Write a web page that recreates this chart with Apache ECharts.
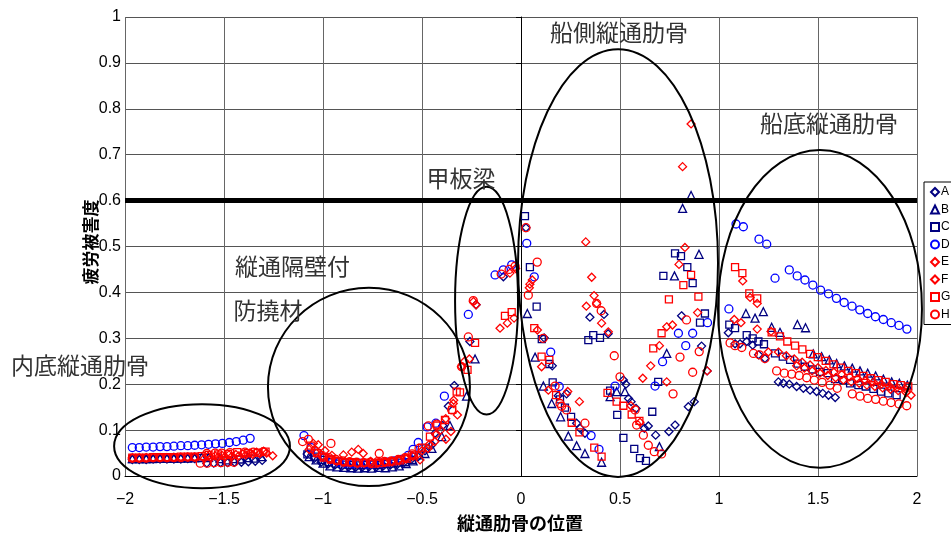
<!DOCTYPE html>
<html>
<head>
<meta charset="utf-8">
<script src="https://cdn.jsdelivr.net/npm/echarts@6/dist/echarts.min.js"></script>
<style>
  html, body { margin: 0; padding: 0; background: #fff; }
  #chart { width: 951px; height: 535px; }
</style>
</head>
<body>
<div id="chart"></div>
<script>
// ---- data (x: 縦通肋骨の位置, y: 疲労被害度) ----
const seriesNames = ['A', 'B', 'C', 'D', 'E', 'F', 'G', 'H'];

const dataA = [
  [-1.963,0.036],[-1.928,0.036],[-1.893,0.036],[-1.858,0.037],[-1.823,0.037],[-1.788,0.037],[-1.753,0.037],[-1.718,0.037],[-1.683,0.038],[-1.648,0.038],
  [-1.587,0.028],[-1.552,0.028],[-1.517,0.029],[-1.482,0.029],[-1.447,0.030],[-1.412,0.030],[-1.377,0.031],[-1.342,0.032],[-1.307,0.034],
  [-1.08,0.048],[-1.045,0.038],[-1.01,0.03],[-0.975,0.026],[-0.94,0.024],[-0.905,0.021],[-0.87,0.02],[-0.835,0.019],[-0.8,0.02],[-0.765,0.021],[-0.73,0.02],
  [-0.695,0.022],[-0.66,0.024],[-0.625,0.025],[-0.59,0.03],[-0.555,0.036],[-0.52,0.042],[-0.485,0.055],[-0.45,0.068],[-0.434,0.093],[-0.395,0.11],
  [-0.367,0.152],[-0.337,0.197],[-0.258,0.293],[-0.227,0.373],[-0.089,0.434],
  [0.025,0.541],[0.117,0.301],[0.158,0.24],[0.188,0.175],[0.23,0.179],[0.281,0.115],[0.298,0.104],[0.323,0.093],[0.348,0.346],[0.419,0.352],[0.44,0.31],
  [0.517,0.209],[0.53,0.2],[0.543,0.169],[0.556,0.162],[0.581,0.147],[0.623,0.104],[0.643,0.109],[0.68,0.089],[0.747,0.097],[0.778,0.111],[0.811,0.349],
  [0.845,0.151],[0.875,0.162],[0.912,0.283],[0.94,0.229],
  [1.047,0.312],[1.081,0.288],[1.106,0.288],[1.14,0.293],[1.17,0.285],[1.2,0.264],[1.232,0.256],[1.3,0.205],[1.325,0.202],[1.355,0.2],[1.392,0.195],
  [1.426,0.191],[1.46,0.187],[1.493,0.184],[1.524,0.18],[1.553,0.176],[1.587,0.171]
];
const dataB = [
  [-1.963,0.038],[-1.928,0.038],[-1.893,0.038],[-1.858,0.039],[-1.823,0.039],[-1.788,0.039],[-1.753,0.039],[-1.718,0.04],[-1.683,0.04],[-1.648,0.04],
  [-1.613,0.041],[-1.578,0.041],[-1.52,0.038],[-1.45,0.038],[-1.38,0.04],[-1.31,0.042],
  [-1.07,0.042],[-1.035,0.035],[-1.0,0.028],[-0.965,0.022],[-0.93,0.02],[-0.895,0.019],[-0.86,0.018],[-0.825,0.017],[-0.79,0.018],[-0.755,0.017],
  [-0.72,0.019],[-0.685,0.018],[-0.65,0.02],[-0.615,0.022],[-0.58,0.027],[-0.545,0.033],[-0.485,0.049],[-0.45,0.06],[-0.40,0.086],[-0.359,0.11],
  [-0.275,0.174],[-0.232,0.255],
  [0.032,0.354],[0.071,0.259],[0.113,0.196],[0.155,0.158],[0.2,0.129],[0.239,0.087],[0.281,0.066],[0.323,0.049],[0.407,0.03],[0.45,0.173],
  [0.483,0.184],[0.525,0.184],[0.699,0.064],[0.736,0.267],[0.775,0.436],[0.816,0.583],[0.859,0.611],[0.899,0.483],
  [1.136,0.354],[1.182,0.344],[1.224,0.358],[1.266,0.324],[1.308,0.313],[1.396,0.33],[1.437,0.323],[1.476,0.266],[1.518,0.26],[1.557,0.253],
  [1.594,0.245],[1.633,0.24],[1.673,0.235],[1.712,0.229],[1.751,0.224],[1.791,0.218],[1.83,0.211],[1.872,0.205],[1.911,0.202],[1.951,0.198]
];
const dataC = [
  [-1.963,0.037],[-1.928,0.037],[-1.893,0.037],[-1.858,0.037],[-1.823,0.038],[-1.788,0.038],[-1.753,0.038],[-1.718,0.038],[-1.683,0.038],[-1.648,0.039],
  [-1.613,0.039],[-1.578,0.039],[-1.49,0.034],[-1.42,0.036],[-1.35,0.038],
  [-1.079,0.047],[-1.04,0.042],[-1.005,0.035],[-0.97,0.03],[-0.935,0.027],[-0.9,0.025],[-0.865,0.024],[-0.83,0.023],[-0.795,0.024],[-0.76,0.025],
  [-0.725,0.024],[-0.69,0.026],[-0.655,0.027],[-0.62,0.029],[-0.585,0.03],[-0.55,0.035],[-0.515,0.045],[-0.48,0.06],
  [0.02,0.566],[0.045,0.455],[0.079,0.369],[0.105,0.298],[0.143,0.244],[0.16,0.204],[0.197,0.167],[0.222,0.149],[0.253,0.129],[0.34,0.296],
  [0.365,0.307],[0.399,0.301],[0.45,0.186],[0.486,0.133],[0.517,0.083],[0.572,0.059],[0.601,0.039],[0.631,0.033],[0.663,0.14],[0.693,0.205],
  [0.719,0.436],[0.778,0.485],[0.808,0.479],[0.84,0.455],[0.867,0.42],[0.904,0.334],[0.929,0.354],
  [1.052,0.33],[1.081,0.322],[1.14,0.307],[1.17,0.3],[1.199,0.293],[1.227,0.287],[1.283,0.267],[1.322,0.26],[1.359,0.253],[1.397,0.245],
  [1.434,0.238],[1.473,0.232],[1.51,0.227],[1.549,0.224],[1.586,0.211],[1.628,0.209],[1.662,0.202],[1.704,0.198],[1.741,0.195],[1.78,0.19],
  [1.818,0.184],[1.855,0.18],[1.897,0.176]
];
const dataD = [
  [-1.963,0.062],[-1.928,0.062],[-1.893,0.063],[-1.858,0.063],[-1.823,0.064],[-1.788,0.064],[-1.753,0.065],[-1.718,0.066],[-1.683,0.066],
  [-1.648,0.067],[-1.613,0.068],[-1.578,0.069],[-1.543,0.07],[-1.508,0.071],[-1.473,0.073],[-1.438,0.075],[-1.403,0.078],[-1.368,0.082],
  [-1.096,0.088],[-1.06,0.062],[-1.025,0.05],[-0.99,0.04],[-0.955,0.035],[-0.92,0.03],[-0.885,0.028],[-0.85,0.027],[-0.815,0.028],[-0.78,0.026],
  [-0.745,0.027],[-0.71,0.028],[-0.675,0.03],[-0.64,0.033],[-0.605,0.036],[-0.57,0.045],[-0.545,0.058],[-0.519,0.073],[-0.474,0.107],[-0.43,0.115],
  [-0.387,0.174],[-0.266,0.352],[-0.131,0.438],[-0.089,0.449],[-0.047,0.46],
  [0.029,0.507],[0.067,0.434],[0.15,0.27],[0.193,0.195],[0.354,0.088],[0.394,0.058],[0.475,0.196],[0.677,0.196],[0.715,0.249],[0.795,0.311],
  [0.832,0.284],[0.867,0.311],[0.942,0.334],
  [1.05,0.364],[1.086,0.549],[1.123,0.543],[1.202,0.516],[1.241,0.505],[1.283,0.431],[1.355,0.449],[1.395,0.436],[1.434,0.427],[1.474,0.416],
  [1.513,0.405],[1.553,0.397],[1.593,0.387],[1.632,0.378],[1.672,0.37],[1.711,0.362],[1.751,0.354],[1.79,0.347],[1.83,0.341],[1.87,0.334],
  [1.909,0.328],[1.949,0.32]
];
const dataE = [
  [-1.963,0.039],[-1.928,0.039],[-1.893,0.04],[-1.858,0.04],[-1.823,0.04],[-1.788,0.04],[-1.753,0.041],[-1.718,0.041],[-1.683,0.041],[-1.648,0.041],
  [-1.58,0.043],[-1.545,0.044],[-1.51,0.045],[-1.475,0.046],[-1.44,0.047],[-1.405,0.048],[-1.37,0.05],[-1.335,0.052],[-1.30,0.054],[-1.254,0.044],
  [-1.049,0.071],[-1.024,0.068],[-0.99,0.055],[-0.955,0.045],[-0.897,0.046],[-0.855,0.052],[-0.822,0.058],[-0.797,0.049],[-0.76,0.032],[-0.725,0.028],
  [-0.69,0.03],[-0.655,0.032],[-0.62,0.035],[-0.585,0.04],[-0.55,0.045],[-0.51,0.035],[-0.47,0.06],[-0.435,0.075],[-0.379,0.08],[-0.354,0.097],
  [-0.321,0.133],[-0.342,0.158],[-0.301,0.238],[-0.261,0.255],[-0.227,0.373],[-0.106,0.322],[-0.069,0.333],[-0.035,0.344],
  [0.057,0.427],[0.083,0.318],[0.138,0.187],[0.236,0.184],[0.327,0.51],[0.369,0.393],[0.407,0.333],[0.555,0.153],[0.615,0.213],[0.699,0.284],
  [0.765,0.329],[0.816,0.674],[0.859,0.767],[0.892,0.356],
  [1.077,0.341],[1.111,0.334],[1.193,0.32],[1.263,0.315],[1.249,0.27],[1.392,0.24],[1.431,0.235],[1.47,0.229],[1.51,0.224],[1.549,0.219],
  [1.589,0.214],[1.628,0.209],[1.668,0.205],[1.708,0.202],[1.747,0.198],[1.787,0.195],[1.826,0.192],[1.866,0.189],[1.905,0.186],[1.945,0.182],[1.97,0.176]
];
const dataF = [
  [-1.6,0.038],[-1.565,0.04],[-1.53,0.041],[-1.495,0.042],[-1.46,0.043],[-1.425,0.044],[-1.39,0.046],[-1.355,0.047],[-1.32,0.049],[-1.285,0.05],
  [-1.07,0.058],[-1.035,0.05],[-1.0,0.042],[-0.965,0.036],[-0.93,0.032],[-0.895,0.03],[-0.86,0.029],[-0.825,0.027],[-0.79,0.028],[-0.755,0.027],
  [-0.72,0.029],[-0.685,0.03],[-0.65,0.031],[-0.615,0.033],[-0.58,0.037],[-0.545,0.043],[-0.5,0.055],[-0.465,0.068],[-0.43,0.09],[-0.405,0.1],
  [-0.38,0.125],[-0.34,0.165],[-0.285,0.25],[-0.24,0.38],[-0.056,0.442],[-0.027,0.452],
  [0.042,0.41],[0.045,0.418],[0.104,0.238],[0.295,0.162],[0.357,0.433],[0.382,0.376],[0.33,0.37],[0.441,0.314],[0.601,0.117],[0.655,0.24],
  [0.736,0.325],[0.736,0.205],[0.798,0.461],[0.828,0.498],[0.94,0.229],
  [1.12,0.425],[1.157,0.389],[1.193,0.376],[1.30,0.27],[1.34,0.262],[1.38,0.255],[1.42,0.248],[1.46,0.242],[1.5,0.236],[1.54,0.23],[1.58,0.226],
  [1.62,0.221],[1.66,0.216],[1.7,0.212],[1.74,0.208],[1.78,0.204],[1.82,0.2],[1.86,0.196],[1.9,0.193],[1.94,0.19]
];
const dataG = [
  [-1.963,0.04],[-1.928,0.04],[-1.893,0.04],[-1.858,0.041],[-1.823,0.041],[-1.788,0.041],[-1.753,0.041],[-1.718,0.042],[-1.683,0.042],[-1.648,0.042],
  [-1.613,0.043],[-1.578,0.046],[-1.53,0.047],[-1.48,0.048],[-1.433,0.052],[-1.38,0.05],[-1.33,0.051],[-1.29,0.053],
  [-1.062,0.066],[-1.03,0.05],[-0.995,0.04],[-0.96,0.036],[-0.925,0.033],[-0.89,0.03],[-0.855,0.03],[-0.82,0.028],[-0.785,0.029],[-0.75,0.027],
  [-0.715,0.028],[-0.68,0.03],[-0.645,0.032],[-0.61,0.034],[-0.575,0.038],[-0.54,0.045],[-0.5,0.062],[-0.46,0.086],[-0.423,0.11],[-0.384,0.122],
  [-0.347,0.144],[-0.325,0.184],[-0.308,0.182],[-0.27,0.231],[-0.232,0.29],[-0.081,0.349],[-0.047,0.357],
  [0.067,0.322],[0.104,0.26],[0.143,0.253],[0.177,0.176],[0.256,0.116],[0.295,0.095],[0.37,0.062],[0.407,0.042],[0.437,0.181],[0.483,0.162],
  [0.517,0.153],[0.559,0.134],[0.598,0.12],[0.668,0.278],[0.71,0.311],[0.747,0.385],[0.82,0.416],[0.859,0.438],[0.896,0.391],
  [1.081,0.455],[1.118,0.442],[1.153,0.398],[1.193,0.387],[1.266,0.313],[1.308,0.304],[1.345,0.293],[1.384,0.284],[1.421,0.276],[1.46,0.266],
  [1.499,0.259],[1.539,0.251],[1.578,0.243],[1.616,0.236],[1.653,0.229],[1.692,0.224],[1.729,0.218],[1.768,0.213],[1.805,0.209],[1.842,0.205],
  [1.881,0.2],[1.918,0.198],[1.956,0.195]
];
const dataH = [
  [-1.963,0.039],[-1.928,0.039],[-1.893,0.039],[-1.858,0.04],[-1.823,0.04],[-1.788,0.04],[-1.753,0.04],[-1.718,0.04],[-1.683,0.041],[-1.648,0.041],
  [-1.62,0.028],[-1.585,0.028],[-1.55,0.029],[-1.515,0.029],[-1.48,0.03],[-1.45,0.03],
  [-1.587,0.049],[-1.545,0.05],[-1.512,0.05],[-1.47,0.051],[-1.394,0.052],[-1.352,0.052],[-1.302,0.053],
  [-1.103,0.075],[-1.074,0.08],[-0.96,0.071],[-0.716,0.049],[-1.04,0.055],[-1.005,0.045],[-0.97,0.04],[-0.935,0.036],[-0.9,0.033],[-0.865,0.031],
  [-0.83,0.03],[-0.795,0.029],[-0.76,0.03],[-0.725,0.031],[-0.69,0.032],[-0.655,0.033],[-0.62,0.036],[-0.585,0.04],[-0.55,0.048],[-0.515,0.06],
  [-0.468,0.109],[-0.426,0.113],[-0.35,0.144],[-0.3,0.238],[-0.266,0.303],[-0.241,0.382],[-0.1,0.44],[-0.06,0.45],[-0.03,0.457],
  [0.025,0.541],[0.037,0.394],[0.082,0.466],[0.112,0.3],[0.172,0.196],[0.197,0.158],[0.205,0.152],[0.23,0.144],[0.323,0.115],[0.382,0.376],
  [0.405,0.36],[0.471,0.262],[0.5,0.216],[0.576,0.144],[0.584,0.111],[0.618,0.089],[0.643,0.067],[0.673,0.053],[0.71,0.048],[0.768,0.179],
  [0.803,0.259],[0.836,0.34],[0.867,0.226],[0.9,0.271],
  [1.056,0.29],[1.081,0.284],[1.115,0.28],[1.174,0.267],[1.204,0.264],[1.232,0.256],[1.291,0.229],[1.33,0.224],[1.367,0.222],[1.405,0.219],
  [1.443,0.214],[1.481,0.209],[1.521,0.204],[1.561,0.198],[1.597,0.191],[1.673,0.179],[1.712,0.174],[1.751,0.169],[1.791,0.167],[1.83,0.163],
  [1.869,0.16],[1.909,0.157],[1.948,0.153]
];

const allData = [dataA, dataB, dataC, dataD, dataE, dataF, dataG, dataH];
const symbols = ['diamond', 'triangle', 'rect', 'circle', 'diamond', 'diamond', 'rect', 'circle'];
const colors = ['#000080', '#000080', '#000080', '#0000ff', '#ff0000', '#ff0000', '#ff0000', '#ff0000'];
const sizes = [8, 8, 7, 8, 8, 8, 7, 8];

const limitLine = 0.6;

// 領域の楕円 (data units: centre x, centre y, radius x, radius y)
const regionEllipses = [
  [-1.611, 0.065, 0.444, 0.0915],
  [-0.768, 0.194, 0.51, 0.216],
  [-0.174, 0.382, 0.159, 0.248],
  [0.49, 0.464, 0.505, 0.466],
  [1.51, 0.364, 0.515, 0.346]
];
const regionLabels = ['内底縦通肋骨', '縦通隔壁付', '防撓材', '甲板梁', '船側縦通肋骨', '船底縦通肋骨'];
const regionLabelPos = [[-2.227, 0.242], [-1.154, 0.457], [-1.278, 0.362], [-0.303, 0.649], [0.495, 0.967], [1.556, 0.769]];

const chart = echarts.init(document.getElementById('chart'));

const option = {
  animation: false,
  textStyle: { fontFamily: '"Liberation Sans", "Noto Sans CJK JP", sans-serif' },
  grid: { left: 125, right: 34, top: 17, bottom: 59 },
  legend: {
    data: seriesNames,
    orient: 'vertical',
    left: 924,
    top: 182,
    padding: [4, 8, 4, 6],
    itemGap: 5.5,
    itemWidth: 8,
    itemHeight: 8,
    borderColor: '#000',
    borderWidth: 1,
    borderRadius: 0,
    backgroundColor: '#fff',
    textStyle: { fontSize: 12, color: '#000', padding: [0, 0, 0, -3] }
  },
  xAxis: {
    type: 'value',
    min: -2, max: 2, interval: 0.5,
    axisLine: { lineStyle: { color: '#000', width: 1 } },
    axisTick: { show: false },
    axisLabel: {
      fontSize: 16, color: '#000', margin: 16,
      formatter: v => String(v).replace('-', '\u2212')
    },
    splitLine: { show: true, lineStyle: { color: '#666', width: 1 } }
  },
  yAxis: {
    type: 'value',
    min: 0, max: 1, interval: 0.1,
    axisLine: { onZero: true, lineStyle: { color: '#000', width: 1 } },
    axisTick: { show: true, length: 5, lineStyle: { color: '#000' } },
    axisLabel: { fontSize: 16, color: '#000', margin: 4, formatter: v => String(+v.toFixed(1)) },
    splitLine: { show: true, lineStyle: { color: '#555', width: 1 } }
  },
  series: seriesNames.map((name, i) => ({
    name,
    type: 'scatter',
    data: allData[i],
    symbol: symbols[i],
    symbolSize: sizes[i],
    itemStyle: { color: 'rgba(0,0,0,0)', borderColor: colors[i], borderWidth: 1.3, opacity: 1 },
    emphasis: { disabled: true },
    markLine: i === 0 ? {
      silent: true,
      symbol: 'none',
      label: { show: false },
      lineStyle: { color: '#000', width: 5, type: 'solid' },
      data: [{ yAxis: limitLine }]
    } : undefined
  }))
};

chart.setOption(option);

// 楕円・注記・軸名 (positioned through the axes)
const toPx = p => chart.convertToPixel({ gridIndex: 0 }, p);
const o = toPx([0, 0]);
const ux = toPx([1, 0])[0] - o[0];
const uy = o[1] - toPx([0, 1])[1];

const graphics = [];
regionEllipses.forEach(e => {
  const c = toPx([e[0], e[1]]);
  graphics.push({
    type: 'ellipse', z: 50, silent: true,
    shape: { cx: c[0], cy: c[1], rx: e[2] * ux, ry: e[3] * uy },
    style: { fill: 'none', stroke: '#000', lineWidth: 2 }
  });
});
regionLabels.forEach((t, i) => {
  const p = toPx(regionLabelPos[i]);
  graphics.push({
    type: 'text', z: 60, silent: true, x: p[0], y: p[1],
    style: {
      text: t, fill: '#333', font: '23px "Noto Sans CJK JP"',
      textAlign: 'center', textVerticalAlign: 'middle'
    }
  });
});
graphics.push({
  type: 'text', z: 60, silent: true, x: 91, y: 242, rotation: Math.PI / 2,
  style: { text: '疲労被害度', fill: '#000', font: 'bold 17px "Noto Sans CJK JP"', textAlign: 'center', textVerticalAlign: 'middle' }
});
graphics.push({
  type: 'text', z: 60, silent: true, x: 520, y: 523,
  style: { text: '縦通肋骨の位置', fill: '#000', font: 'bold 18px "Noto Sans CJK JP"', textAlign: 'center', textVerticalAlign: 'middle' }
});

chart.setOption({ graphic: graphics });
window.addEventListener('resize', () => chart.resize());
</script>
</body>
</html>
